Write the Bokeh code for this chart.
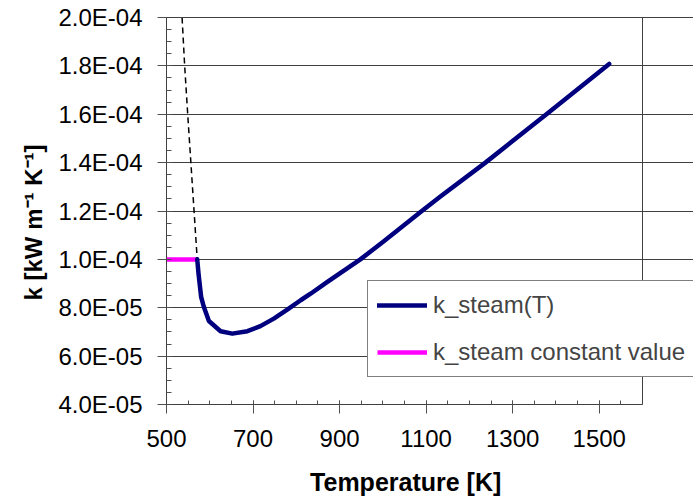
from bokeh.plotting import figure
from bokeh.models import (FixedTicker, CustomJSTickFormatter, Range1d,
                          Legend, LegendItem, BoxAnnotation, Title)
from bokeh.embed import file_html
from bokeh.resources import INLINE

# Thermal conductivity of steam vs temperature
T_steam = [571, 574, 580, 586, 598, 625, 652, 687, 717, 748, 779, 810, 833,
           871, 948, 1000, 1090, 1133, 1237, 1378, 1523]
k_steam = [1.00e-4, 9.41e-5, 8.45e-5, 8.05e-5, 7.45e-5, 7.03e-5, 6.93e-5,
           7.03e-5, 7.24e-5, 7.55e-5, 7.92e-5, 8.31e-5, 8.58e-5, 9.06e-5,
           1.00e-4, 1.072e-4, 1.20e-4, 1.26e-4, 1.40e-4, 1.60e-4, 1.808e-4]

# Constant value used below the validity limit
T_const = [500, 571]
k_const = [1.0e-4, 1.0e-4]

# Correlation extrapolated below the limit (dashed)
T_extrap = [536, 542, 549, 571]
k_extrap = [2.0e-4, 1.8e-4, 1.6e-4, 1.0e-4]

x_ticks = [500, 700, 900, 1100, 1300, 1500]
y_ticks = [4.0e-5, 6.0e-5, 8.0e-5, 1.0e-4, 1.2e-4, 1.4e-4, 1.6e-4, 1.8e-4, 2.0e-4]
y_tick_labels = ["4.0E-05", "6.0E-05", "8.0E-05", "1.0E-04", "1.2E-04",
                 "1.4E-04", "1.6E-04", "1.8E-04", "2.0E-04"]

X_MIN, X_MAX = 500, 1600
Y_MIN, Y_MAX = 4.0e-5, 2.0e-4
FONT = "Liberation Sans"
AXIS_GREY = "#404040"

# The frame runs to the right edge of the page so the legend box can run
# past the plotted area; the visible plot area is closed at X_MAX below.
LEFT, WIDTH, HEIGHT = 166, 693, 499
TOP, BOTTOM = 15, 95
px_per_K = (642 - LEFT) / (X_MAX - X_MIN)
x_view_end = X_MIN + (WIDTH - LEFT) / px_per_K
# leave two pixels above Y_MAX so the top border line is not cut by the frame
frame_h = HEIGHT - TOP - BOTTOM
y_view_end = Y_MAX + 2 * (Y_MAX - Y_MIN) / (frame_h - 2)

p = figure(width=WIDTH, height=HEIGHT, output_backend="svg", toolbar_location=None,
           x_range=Range1d(X_MIN, x_view_end), y_range=Range1d(Y_MIN, y_view_end),
           min_border_left=LEFT, min_border_right=0,
           min_border_top=TOP, min_border_bottom=BOTTOM,
           background_fill_color="white", border_fill_color="white")

p.outline_line_color = None
p.xgrid.visible = False
p.ygrid.grid_line_color = AXIS_GREY
p.ygrid.grid_line_width = 1
p.ygrid.bounds = (X_MIN, X_MAX)

# border of the plot area
p.add_layout(BoxAnnotation(left=X_MIN, right=X_MAX, bottom=Y_MIN, top=Y_MAX,
                           fill_alpha=0, line_color=AXIS_GREY, line_width=1,
                           line_alpha=1))

# x axis: majors every 200 K, minors every 50 K
x_minor = [X_MIN + 50 * i for i in range(23)]
p.xaxis.ticker = FixedTicker(ticks=x_ticks, minor_ticks=x_minor)
p.xaxis.bounds = (X_MIN, X_MAX)
p.xaxis.major_tick_in = 4
p.xaxis.major_tick_out = 9
p.xaxis.minor_tick_in = 4
p.xaxis.minor_tick_out = 0
p.xaxis.major_label_standoff = 16
# the label is centred on the whole frame; trailing no-break spaces pull
# the visible words back over the plotted area
p.xaxis.axis_label = "Temperature [K]" + "\u00a0" * 7
p.xaxis.axis_label_standoff = 18
p.xaxis.axis_label_text_font = FONT
p.xaxis.axis_label_text_font_size = "25px"
p.xaxis.axis_label_text_font_style = "bold"
p.xaxis.axis_label_text_color = "black"

# y axis: majors every 2E-05, minors every 5E-06
y_minor = [Y_MIN + 5.0e-6 * i for i in range(33)]
p.yaxis.ticker = FixedTicker(ticks=y_ticks, minor_ticks=y_minor)
p.yaxis.bounds = (Y_MIN, Y_MAX)
p.yaxis.formatter = CustomJSTickFormatter(
    args=dict(tick_vals=y_ticks, tick_text=y_tick_labels),
    code="""
        let best = 0;
        for (let i = 0; i < tick_vals.length; i++) {
            if (Math.abs(tick_vals[i] - tick) < Math.abs(tick_vals[best] - tick)) best = i;
        }
        return tick_text[best];
    """)
p.yaxis.major_tick_in = 0
p.yaxis.major_tick_out = 9
p.yaxis.minor_tick_in = 5
p.yaxis.minor_tick_out = 0
p.yaxis.major_label_standoff = 15

for ax in (p.xaxis, p.yaxis):
    ax.axis_line_color = AXIS_GREY
    ax.axis_line_width = 1
    ax.major_tick_line_color = "#505050"
    ax.minor_tick_line_color = "#505050"
    ax.major_label_text_font = FONT
    ax.major_label_text_font_size = "24px"
    ax.major_label_text_color = "black"

# y axis title, placed along the plotted area
p.add_layout(Title(text="k [kW m\u207b\u00b9 K\u207b\u00b9]", align="left",
                   offset=104, standoff=17,
                   text_font=FONT, text_font_size="24px",
                   text_font_style="bold", text_color="black"), "left")

r_const = p.line(T_const, k_const, line_color="#FF00FF", line_width=4.5)
p.line(T_extrap, k_extrap, line_color="black", line_width=1.5, line_dash="6 4")
r_steam = p.line(T_steam, k_steam, line_color="#00007F", line_width=4.5,
                 line_join="round", line_cap="round")

legend = Legend(
    items=[LegendItem(label="k_steam(T)", renderers=[r_steam]),
           LegendItem(label="k_steam constant value", renderers=[r_const])],
    location=(201, 27), margin=0, padding=9, spacing=17,
    glyph_width=50, glyph_height=30, label_height=30, label_standoff=6,
    label_width=280,
    label_text_font=FONT, label_text_font_size="24px",
    border_line_color="black", border_line_width=1,
    background_fill_color="white", background_fill_alpha=1.0)
p.add_layout(legend)

open("out.html", "w").write(file_html(p, INLINE))
